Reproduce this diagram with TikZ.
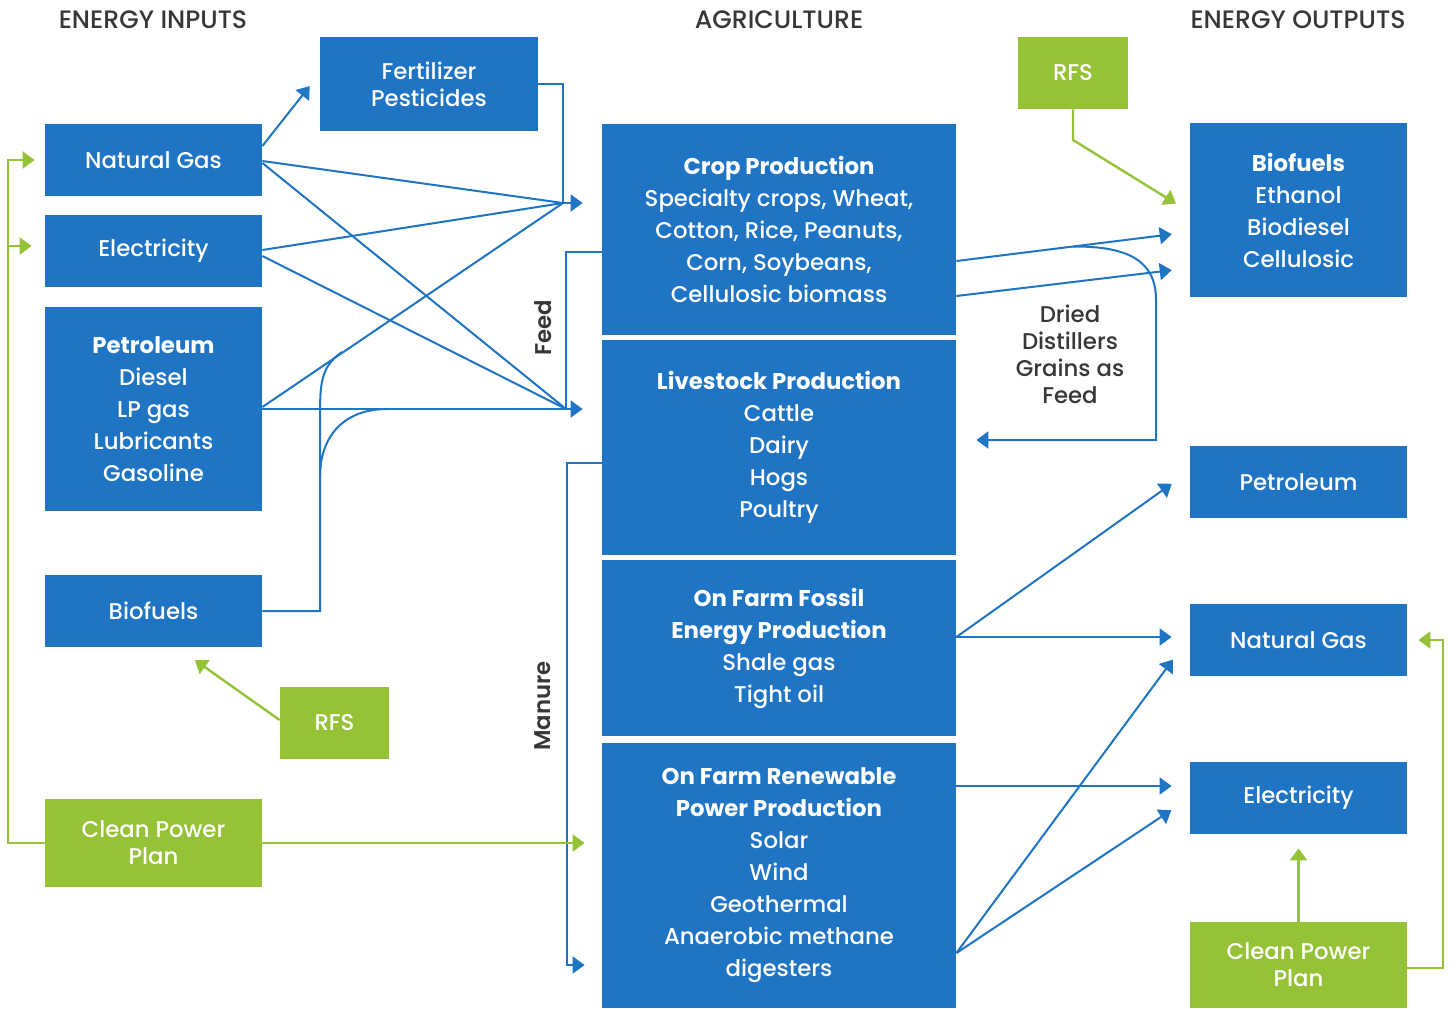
\documentclass[tikz,border=0pt]{standalone}
\usepackage{fontspec}
\setmainfont{Poppins}[UprightFont={* Medium}, BoldFont={* Bold}]
\newfontface\semibold{Poppins SemiBold}
\usetikzlibrary{arrows.meta,positioning,calc}
\definecolor{agBlue}{RGB}{31,116,196}
\definecolor{agGreen}{RGB}{149,194,54}
\definecolor{agText}{RGB}{55,55,55}

\begin{document}
\begin{tikzpicture}[x=0.5pt, y=-0.5pt,
    bluebox/.style={fill=agBlue, text=white, align=center, inner sep=0pt, font=\fontsize{11.4}{16}\selectfont},
    greenbox/.style={bluebox, fill=agGreen},
    tight/.style={font=\fontsize{11.4}{13.5}\selectfont},
    sidebox/.style={bluebox, minimum width=108.5pt, minimum height=36pt},
    agbox/.style={bluebox, minimum width=177pt},
    flow/.style={draw=agBlue, line width=1pt},
    flowarr/.style={flow, -{Triangle[length=6pt,width=8.5pt]}},
    policy/.style={draw=agGreen, line width=1.2pt, -{Triangle[length=6pt,width=8.5pt]}},
    heading/.style={text=agText, font=\fontsize{12.6}{14}\selectfont},
    sidelabel/.style={text=agText, font=\fontsize{11.4}{14}\semibold},
    note/.style={text=agText, align=center, font=\fontsize{11.4}{13.5}\selectfont}]
    \useasboundingbox (0,0) rectangle (1456,1008);

    % Column headings
    \node[heading] (hin) at (153,20) {ENERGY INPUTS};
    \node[heading] (hag) at (779,20) {AGRICULTURE};
    \node[heading] (hout) at (1298,20) {ENERGY OUTPUTS};

    % Energy inputs
    \node[bluebox, tight, minimum width=109pt, minimum height=47pt] (fert) at (429,84) {Fertilizer\\Pesticides};
    \node[sidebox] (ngin) at (153.5,160) {Natural Gas};
    \node[sidebox] (elin) at (153.5,251) {Electricity};
    \node[sidebox, minimum height=102pt] (petin) at (153.5,409) {\textbf{Petroleum}\\Diesel\\LP gas\\Lubricants\\Gasoline};
    \node[sidebox] (bioin) at (153.5,611) {Biofuels};
    \node[greenbox, minimum width=54.5pt, minimum height=36pt] (rfsin) at (334.5,723) {RFS};
    \node[greenbox, tight, minimum width=108.5pt, minimum height=44pt] (cppin) at (153.5,843) {Clean Power\\Plan};

    % Agriculture
    \node[agbox, minimum height=105.5pt] (crop) at (779,229.5) {\textbf{Crop Production}\\Specialty crops, Wheat,\\Cotton, Rice, Peanuts,\\Corn, Soybeans,\\Cellulosic biomass};
    \node[agbox, minimum height=107.5pt] (live) at (779,447.5) {\textbf{Livestock Production}\\Cattle\\Dairy\\Hogs\\Poultry};
    \node[agbox, minimum height=88pt] (fossil) at (779,648) {\textbf{On Farm Fossil}\\\textbf{Energy Production}\\Shale gas\\Tight oil};
    \node[agbox, minimum height=132.5pt] (renew) at (779,875.5) {\textbf{On Farm Renewable}\\\textbf{Power Production}\\Solar\\Wind\\Geothermal\\Anaerobic methane\\digesters};

    % Energy outputs
    \node[greenbox, minimum width=55pt, minimum height=36pt] (rfsout) at (1073,73) {RFS};
    \node[sidebox, minimum height=87pt] (bioout) at (1298.5,210) {\textbf{Biofuels}\\Ethanol\\Biodiesel\\Cellulosic};
    \node[sidebox] (petout) at (1298.5,482) {Petroleum};
    \node[sidebox] (ngout) at (1298.5,640) {Natural Gas};
    \node[sidebox] (elout) at (1298.5,798) {Electricity};
    \node[greenbox, tight, minimum width=108.5pt, minimum height=43pt] (cppout) at (1298.5,965) {Clean Power\\Plan};

    % Labels
    \node[note] (ddgs) at (1070,354) {Dried\\Distillers\\Grains as\\Feed};
    \node[sidelabel, rotate=90] (feed) at (543,328) {Feed};
    \node[sidelabel, rotate=90] (manure) at (543,706) {Manure};

    % Inputs into crops and livestock
    \coordinate (cropin) at (563,203);
    \coordinate (livein) at (566,409);
    \draw[flowarr, shorten >=8pt] (ngin.east |- 0,146) -- (fert.west |- 0,73.5);
    \draw[flow] (fert.east) -| (cropin);
    \draw[flow] (ngin.east |- 0,161) -- (cropin);
    \draw[flow] (elin.east |- 0,250) -- (cropin);
    \draw[flow] (petin.east |- 0,407) -- (cropin);
    \draw[flow] (ngin.east |- 0,163) -- (livein);
    \draw[flow] (elin.east |- 0,256) -- (livein);
    \draw[flowarr, shorten >=9.5pt] (cropin) -- (crop.west |- cropin);
    \draw[flowarr, shorten >=9.5pt] (petin.east) -- (live.west |- petin.east);

    % Biofuels blended in
    \coordinate (blend) at (320,477);
    \draw[flow] (bioin.east) -| (blend) -- (320,420) .. controls (320,385) and (320,367) .. (342,352);
    \draw[flow] (blend) .. controls (320,435) and (345,409) .. (387,409);

    % Feed and manure
    \draw[flow] (crop.west |- 0,252) -| (livein);
    \draw[flowarr, shorten >=8.5pt] (live.west |- 0,463) -| (567,965) -- (renew.west |- 0,965);

    % Policies on the input side
    \draw[policy, shorten >=8.5pt] (cppin.east) -- (renew.west |- cppin.east);
    \draw[policy, shorten >=5pt] (cppin.west) -| (8,160) -- (ngin.west);
    \draw[policy, shorten >=6.5pt] (8,246) -- (elin.west |- 0,246);
    \draw[policy, shorten >=11pt] (rfsin.west |- 0,720) -- (bioin.south -| 177,0);

    % Agriculture to outputs
    \draw[flowarr, shorten >=9pt] (crop.east |- 0,261) -- coordinate[pos=0.5] (ddgsfrom) (bioout.west |- 0,232);
    \draw[flowarr, shorten >=9pt] (crop.east |- 0,296) -- (bioout.west |- 0,268);
    \draw[flowarr, shorten >=10pt] (ddgsfrom) .. controls (1130,246) and (1156,262) .. (1156,300) |- (live.east |- 0,440);
    \draw[flowarr, shorten >=11pt] (fossil.east |- 0,637) -- (petout.west |- 0,471);
    \draw[flowarr, shorten >=9pt] (fossil.east |- 0,637) -- (ngout.west |- 0,637);
    \draw[flowarr, shorten >=9pt] (renew.east |- 0,786) -- (elout.west |- 0,786);
    \draw[flowarr, shorten >=14pt] (renew.east |- 0,953) -- (ngout.west |- 0,637);
    \draw[flowarr, shorten >=11pt] (renew.east |- 0,953) -- (elout.west);

    % Policies on the output side
    \draw[policy, shorten >=8pt] (rfsout.south) -- (1073,140) -- (bioout.west |- 0,212);
    \draw[policy, shorten >=7pt] (cppout.north) -- (elout.south);
    \draw[policy, shorten >=5.5pt] (cppout.east |- 0,968) -| (1443,640) -- (ngout.east);
\end{tikzpicture}
\end{document}
